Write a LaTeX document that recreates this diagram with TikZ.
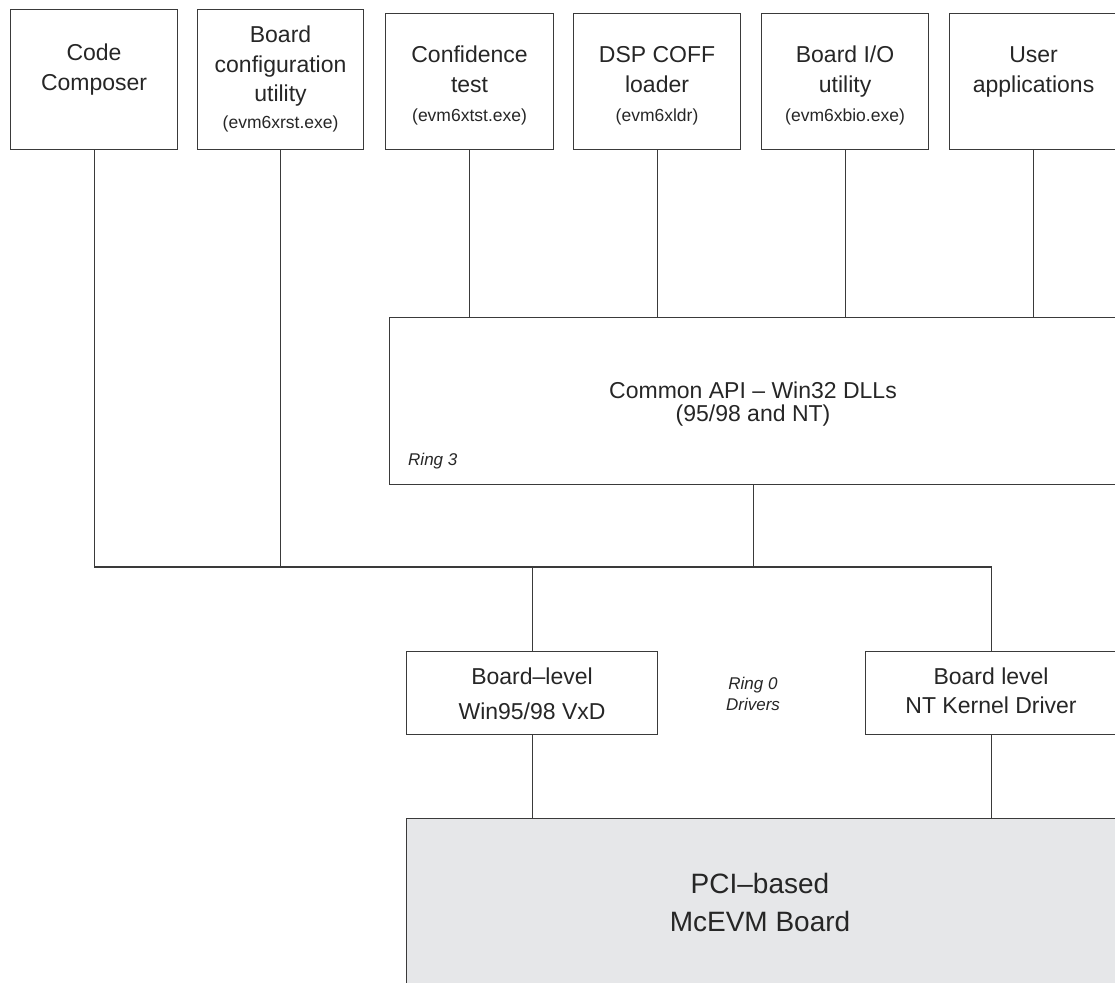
\documentclass[tikz,border=0pt]{standalone}
\usepackage{fontspec}
\setmainfont{Liberation Sans}
\definecolor{edge}{HTML}{3A3A3A}
\definecolor{boardfill}{HTML}{E6E7E9}
\begin{document}
\begin{tikzpicture}[x=1pt,y=-1pt,
  box/.style={draw=edge, line width=1.1pt, rectangle, anchor=north west, inner sep=0pt},
  wire/.style={draw=edge, line width=1.1pt},
  big/.style={font=\fontsize{23}{28}\selectfont, text=black!85, inner sep=0pt, anchor=base},
  small/.style={font=\fontsize{17.5}{21}\selectfont, text=black!85, inner sep=0pt, anchor=base},
  ring/.style={font=\itshape\fontsize{17}{20}\selectfont, text=black!85, inner sep=0pt, anchor=base},
  huge/.style={font=\fontsize{28}{34}\selectfont, text=black!85, inner sep=0pt, anchor=base}]
\useasboundingbox (0,0) rectangle (1115,982);
\clip (0,0) rectangle (1115,982);
% top boxes
\node[box, minimum width=167, minimum height=140] (cc) at (10,9) {};
\node[box, minimum width=166, minimum height=140] (bc) at (197,9) {};
\node[box, minimum width=168, minimum height=136] (ct) at (385,13) {};
\node[box, minimum width=167, minimum height=136] (dl) at (573,13) {};
\node[box, minimum width=167, minimum height=136] (bio) at (761,13) {};
\node[box, minimum width=168, minimum height=136] (ua) at (949,13) {};
% API
\node[box, minimum width=728, minimum height=167] (api) at (389,317) {};
% drivers
\node[box, minimum width=251, minimum height=83] (bl) at (406,651) {};
\node[box, minimum width=251, minimum height=83] (ntb) at (865,651) {};
% board
\node[box, fill=boardfill, minimum width=720, minimum height=190] (pci) at (406,818) {};
\coordinate (bus) at (0,567);
% texts
\node[big] (cc1) at (cc.center |- 0,60) {Code};
\node[big] (cc2) at (cc.center |- 0,90) {Composer};
\node[big] (bc1) at (bc.center |- 0,43) {Board};
\node[big] (bc2) at (bc.center |- 0,72) {configuration};
\node[big] (bc3) at (bc.center |- 0,101) {utility};
\node[small] (bc4) at (bc.center |- 0,128) {(evm6xrst.exe)};
\node[big] (ct1) at (ct.center |- 0,63) {Confidence};
\node[big] (ct2) at (ct.center |- 0,92) {test};
\node[small] (ct3) at (ct.center |- 0,121) {(evm6xtst.exe)};
\node[big] (dl1) at (dl.center |- 0,63) {DSP COFF};
\node[big] (dl2) at (dl.center |- 0,92) {loader};
\node[small] (dl3) at (dl.center |- 0,121) {(evm6xldr)};
\node[big] (bio1) at (bio.center |- 0,63) {Board I/O};
\node[big] (bio2) at (bio.center |- 0,92) {utility};
\node[small] (bio3) at (bio.center |- 0,121) {(evm6xbio.exe)};
\node[big] (ua1) at (ua.center |- 0,63) {User};
\node[big] (ua2) at (ua.center |- 0,92) {applications};
\node[big] (api1) at (753,398) {Common API – Win32 DLLs};
\node[big] (api2) at (753,421) {(95/98 and NT)};
\node[ring, anchor=base west] (r3) at (408,465) {Ring 3};
\node[ring] (r01) at (753,689) {Ring 0};
\node[ring] (r02) at (753,710) {Drivers};
\node[big] (bl1) at (bl.center |- 0,684) {Board–level};
\node[big] (bl2) at (bl.center |- 0,719) {Win95/98 VxD};
\node[big] (nt1) at (ntb.center |- 0,684) {Board level};
\node[big] (nt2) at (ntb.center |- 0,713) {NT Kernel Driver};
\node[huge] (pci1) at (760,893) {PCI–based};
\node[huge] (pci2) at (760,931) {McEVM Board};
% connectors
\draw[wire] (cc.south) |- (ntb.north |- bus) -- (ntb.north);
\draw[wire] (bc.south) -- (bc.south |- bus);
\draw[wire] (api.south) -- (api.south |- bus);
\draw[wire] (bl.north) -- (bl.north |- bus);
\draw[wire] (ct.south) -- (ct.south |- api.north);
\draw[wire] (dl.south) -- (dl.south |- api.north);
\draw[wire] (bio.south) -- (bio.south |- api.north);
\draw[wire] (ua.south) -- (ua.south |- api.north);
\draw[wire] (bl.south) -- (bl.south |- pci.north);
\draw[wire] (ntb.south) -- (ntb.south |- pci.north);
\end{tikzpicture}
\end{document}
